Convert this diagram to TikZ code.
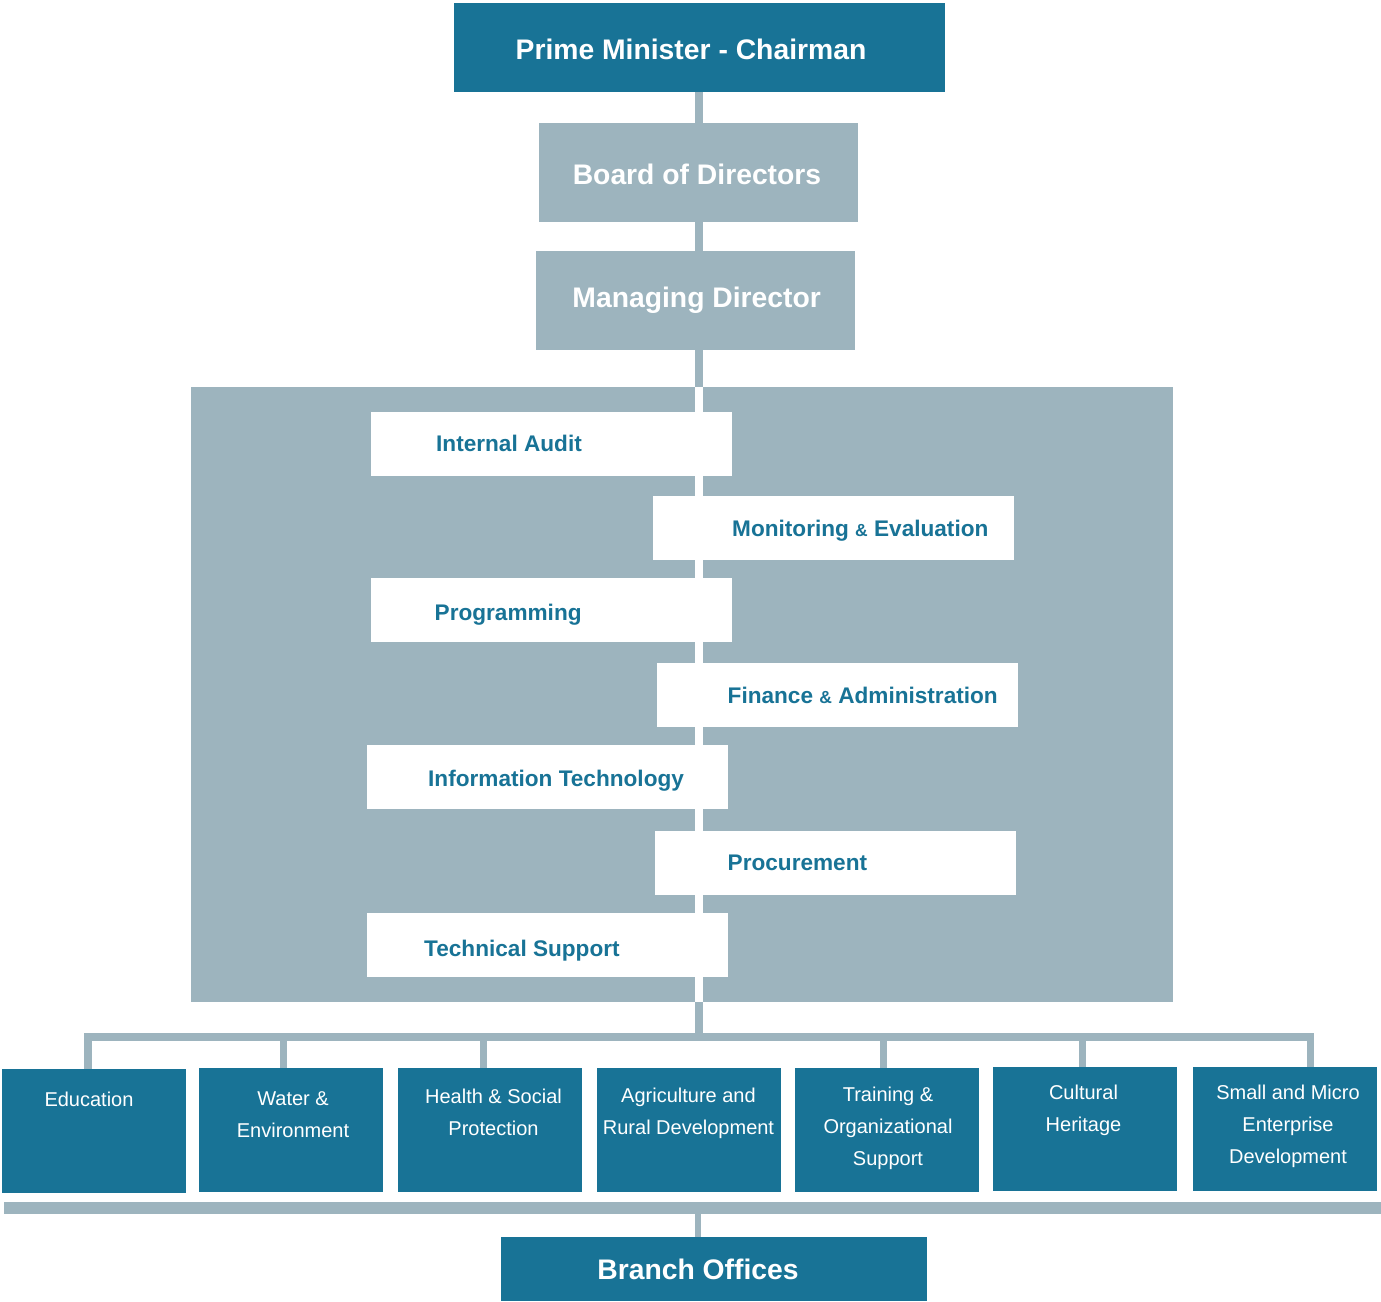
\documentclass[tikz,border=0pt]{standalone}
\usepackage{fontspec}
\setmainfont{Liberation Sans}
\definecolor{tealA}{HTML}{187396}
\definecolor{grayA}{HTML}{9DB4BE}
\begin{document}
\begin{tikzpicture}[x=1pt,y=-1pt,
  darkbox/.style={fill=tealA, draw=none, inner sep=0, rectangle},
  greybox/.style={fill=grayA, draw=none, inner sep=0, rectangle},
  whitebox/.style={fill=white, draw=none, inner sep=0, rectangle},
  titletxt/.style={text=white, font=\fontsize{28.3}{34}\selectfont\bfseries, inner sep=0, anchor=base},
  unittxt/.style={text=tealA, font=\fontsize{22.6}{27}\selectfont\bfseries, inner sep=0, anchor=base west},
  depttxt/.style={text=white, font=\fontsize{20}{32}\selectfont, inner sep=0, anchor=north, align=center},
  conn/.style={draw=grayA, line width=8},
  tree/.style={draw=grayA, line width=7.5, line join=miter},
]
\useasboundingbox (0,0) rectangle (1381,1301);

% top chain
\node[darkbox, minimum width=491, minimum height=89] (pm) at (699.5,47.5) {};
\node[titletxt] (pmt) at (691,59) {Prime Minister - Chairman};
\node[greybox, minimum width=319, minimum height=99] (board) at (698.5,172.5) {};
\node[titletxt] (boardt) at (697,184) {Board of Directors};
\node[greybox, minimum width=319, minimum height=99] (md) at (695.5,300.5) {};
\node[titletxt] (mdt) at (696.7,307) {Managing Director};

% panel
\node[greybox, minimum width=982, minimum height=615] (panel) at (682,694.5) {};
\coordinate (spine) at (699,0);
\draw[conn] (pm.south -| spine) -- (board.north -| spine);
\draw[conn] (board.south -| spine) -- (md.north -| spine);
\draw[conn] (md.south -| spine) -- (panel.north -| spine);
\draw[draw=white, line width=8] (panel.north -| spine) -- (panel.south -| spine);

% units
\node[whitebox, minimum width=361, minimum height=64] (audit) at (551.5,444) {};
\node[unittxt] (auditt) at (436,451) {Internal Audit};
\node[whitebox, minimum width=361, minimum height=64] (mon) at (833.5,528) {};
\node[unittxt] (mont) at (732,536) {Monitoring {\fontsize{17.5}{17.5}\selectfont\&} Evaluation};
\node[whitebox, minimum width=361, minimum height=64] (prog) at (551.5,610) {};
\node[unittxt] (progt) at (434.5,620) {Programming};
\node[whitebox, minimum width=361, minimum height=64] (fin) at (837.5,695) {};
\node[unittxt] (fint) at (727.5,703) {Finance {\fontsize{17.5}{17.5}\selectfont\&} Administration};
\node[whitebox, minimum width=361, minimum height=64] (it) at (547.5,777) {};
\node[unittxt] (itt) at (428,786) {Information Technology};
\node[whitebox, minimum width=361, minimum height=64] (proc) at (835.5,863) {};
\node[unittxt] (proct) at (727.5,870) {Procurement};
\node[whitebox, minimum width=361, minimum height=64] (tech) at (547.5,945) {};
\node[unittxt] (techt) at (424,956) {Technical Support};

% departments
\node[darkbox, minimum width=184, minimum height=124] (edu) at (94,1131) {};
\node[darkbox, minimum width=184, minimum height=124] (water) at (291,1130) {};
\node[darkbox, minimum width=184, minimum height=124] (health) at (490,1130) {};
\node[darkbox, minimum width=184, minimum height=124] (agri) at (689,1130) {};
\node[darkbox, minimum width=184, minimum height=124] (train) at (887,1130) {};
\node[darkbox, minimum width=184, minimum height=124] (cult) at (1085,1129) {};
\node[darkbox, minimum width=184, minimum height=124] (small) at (1285,1129) {};

\node[depttxt] (edut) at (89,1090) {\rule{0pt}{16pt}Education};
\node[depttxt] (watert) at (293,1089) {\rule{0pt}{16pt}Water \&\\Environment};
\node[depttxt] (healtht) at (493.5,1087) {\rule{0pt}{16pt}Health \& Social\\Protection};
\node[depttxt] (agrit) at (688.5,1086) {\rule{0pt}{16pt}Agriculture and\\Rural Development};
\node[depttxt] (traint) at (888,1085) {\rule{0pt}{16pt}Training \&\\Organizational\\Support};
\node[depttxt] (cultt) at (1083.5,1083) {\rule{0pt}{16pt}Cultural\\Heritage};
\node[depttxt] (smallt) at (1288,1083) {\rule{0pt}{16pt}Small and Micro\\Enterprise\\Development};

% distribution bar
\coordinate (barL) at (88,1037);
\coordinate (barR) at (1310.5,1037);
\draw[conn] (panel.south -| spine) -- (spine |- barL);
\draw[tree] (edu.north -| barL) -- (barL) -- (barR) -- (barR |- small.north);
\coordinate (d2) at (283.5,1037);
\coordinate (d3) at (483.5,1037);
\coordinate (d5) at (883.5,1037);
\coordinate (d6) at (1082.5,1037);
\draw[tree] (d2) -- (d2 |- water.north);
\draw[tree] (d3) -- (d3 |- health.north);
\draw[tree] (d5) -- (d5 |- train.north);
\draw[tree] (d6) -- (d6 |- cult.north);

% rail and branch offices
\node[darkbox, minimum width=426, minimum height=64] (branch) at (714,1269) {};
\node[titletxt] (brancht) at (698,1279) {Branch Offices};
\coordinate (railL) at (4,1208);
\coordinate (railR) at (1381,1208);
\coordinate (railC) at (698,1208);
\draw[draw=grayA, line width=12] (railL) -- (railR);
\draw[draw=grayA, line width=6.5] (railC) -- (railC |- branch.north);
\end{tikzpicture}
\end{document}
